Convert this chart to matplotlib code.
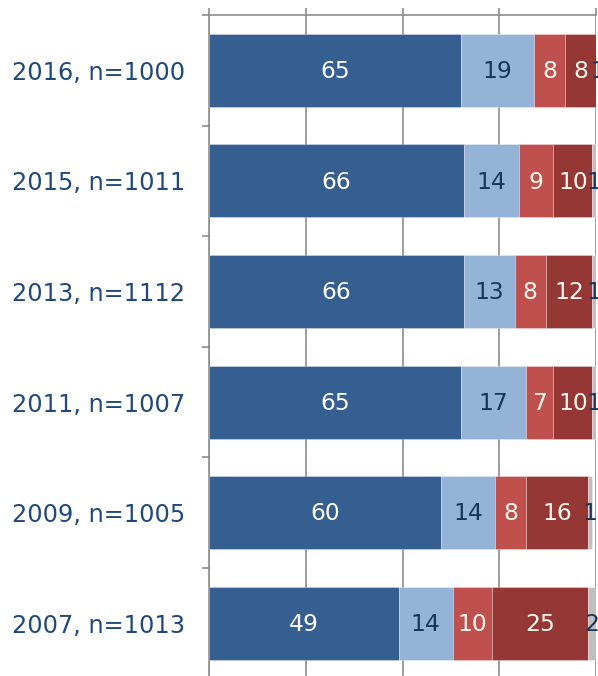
import matplotlib
matplotlib.use("Agg")
import matplotlib.pyplot as plt
import numpy as np

categories = ["2016, n=1000", "2015, n=1011", "2013, n=1112",
              "2011, n=1007", "2009, n=1005", "2007, n=1013"]
seg1 = [65, 66, 66, 65, 60, 49]
seg2 = [19, 14, 13, 17, 14, 14]
seg3 = [8, 9, 8, 7, 8, 10]
seg4 = [8, 10, 12, 10, 16, 25]
seg5 = [1, 1, 1, 1, 1, 2]

series = [seg1, seg2, seg3, seg4, seg5]
colors = ["#365F91", "#95B3D7", "#C0504D", "#953735", "#BFBFBF"]
text_colors = ["#FFFFFF", "#17365D", "#FFF8EE", "#FFF8EE", "#17365D"]

fig = plt.figure(figsize=(5.98, 6.76), dpi=100)
ax = fig.add_axes([209/598, 1 - 678.6/676, 387/598, 663.6/676])

y = np.arange(len(categories))
left = np.zeros(len(categories))
for vals, c, tc in zip(series, colors, text_colors):
    vals = np.array(vals, dtype=float)
    ax.barh(y, vals, left=left, height=0.66, color=c, edgecolor=(1, 1, 1, 0.35),
            linewidth=0.6, zorder=3, clip_on=True)
    for yi, (l, v) in enumerate(zip(left, vals)):
        ax.text(l + v / 2, yi + 0.01, f"{int(v)}", ha="center", va="center",
                fontsize=16.8, color=tc, zorder=4, clip_on=False)
    left += vals

ax.set_xlim(0, 100)
ax.set_ylim(len(categories) - 0.5, -0.5)

# top axis with ticks, gridlines
ax.xaxis.tick_top()
ax.set_xticks([0, 25, 50, 75, 100])
ax.set_xticklabels([])
ax.tick_params(axis="x", which="major", direction="out", length=5,
               width=1.2, color="#8C8C8C")
ax.grid(axis="x", color="#8C8C8C", linewidth=1.2, zorder=0)

# y axis: labels at centers, tick marks at boundaries
ax.set_yticks(y)
ax.set_yticklabels(categories, fontsize=17.3, color="#1F497D")
ax.tick_params(axis="y", which="major", length=0, pad=17)
ax.set_yticks(np.arange(-0.5, len(categories) + 0.5, 1), minor=True)
ax.tick_params(axis="y", which="minor", direction="out", length=5,
               width=1.2, color="#8C8C8C")

for s in ["right", "bottom"]:
    ax.spines[s].set_visible(False)
for s in ["top", "left"]:
    ax.spines[s].set_color("#8C8C8C")
    ax.spines[s].set_linewidth(1.2)

fig.savefig("out.png", dpi=100)
